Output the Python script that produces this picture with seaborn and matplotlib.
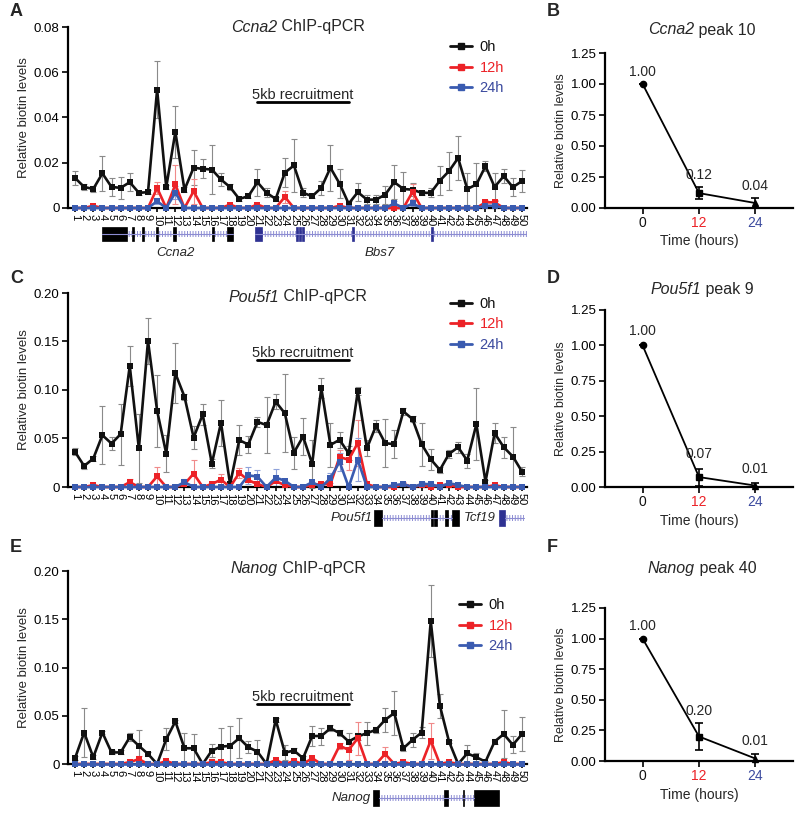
import numpy as np
import seaborn as sns
import matplotlib.pyplot as plt
from matplotlib.patches import Rectangle
from matplotlib.lines import Line2D
from matplotlib.transforms import ScaledTranslation

sns.set_theme(style="ticks")
plt.rcParams['font.family'] = ['Liberation Sans', 'DejaVu Sans']
plt.rcParams['hatch.linewidth'] = 0.7

# ---------------- data ----------------
probes = np.arange(1, 51)
time_labels = ['0h', '12h', '24h']
hours = [0, 12, 24]

# Ccna2 ChIP-qPCR
ccna2_0h = [0.0133, 0.0093, 0.0084, 0.0153, 0.0093, 0.0089, 0.0114, 0.0067, 0.0070, 0.0523,
            0.0092, 0.0336, 0.0081, 0.0178, 0.0173, 0.0170, 0.0126, 0.0092, 0.0040, 0.0052,
            0.0114, 0.0067, 0.0040, 0.0156, 0.0188, 0.0067, 0.0052, 0.0089, 0.0178, 0.0108,
            0.0019, 0.0070, 0.0037, 0.0037, 0.0059, 0.0114, 0.0084, 0.0081, 0.0067, 0.0067,
            0.0121, 0.0163, 0.0221, 0.0084, 0.0104, 0.0185, 0.0093, 0.0141, 0.0092, 0.0119]
ccna2_0h_err = [0.0030, 0.0015, 0.0015, 0.0077, 0.0040, 0.0050, 0.0040, 0.0010, 0.0010, 0.0127,
                0.0010, 0.0113, 0.0010, 0.0078, 0.0042, 0.0107, 0.0027, 0.0012, 0.0010, 0.0010,
                0.0059, 0.0020, 0.0010, 0.0064, 0.0116, 0.0020, 0.0010, 0.0030, 0.0102, 0.0065,
                0.0010, 0.0040, 0.0020, 0.0020, 0.0040, 0.0074, 0.0075, 0.0030, 0.0010, 0.0020,
                0.0064, 0.0084, 0.0098, 0.0072, 0.0093, 0.0022, 0.0063, 0.0032, 0.0041, 0.0048]
ccna2_12h = [0, 0, 0.0010, 0, 0, 0, 0, 0, 0, 0.0089,
             0, 0.0104, 0, 0.0074, 0, 0, 0, 0.0015, 0, 0,
             0.0015, 0, 0, 0.0049, 0, 0, 0, 0, 0, 0.0010,
             0, 0, 0, 0, 0, 0, 0, 0.0071, 0, 0,
             0, 0, 0, 0, 0, 0.0025, 0.0025, 0, 0, 0]
ccna2_12h_err = [0, 0, 0, 0, 0, 0, 0, 0, 0, 0.0025,
                 0, 0.0086, 0, 0.0056, 0, 0, 0, 0, 0, 0,
                 0, 0, 0, 0.0025, 0, 0, 0, 0, 0, 0,
                 0, 0, 0, 0, 0, 0, 0, 0.0033, 0, 0,
                 0, 0, 0, 0, 0, 0.0010, 0.0010, 0, 0, 0]
ccna2_24h = [0, 0, 0, 0, 0, 0, 0, 0, 0, 0.0030,
             0, 0.0068, 0, 0, 0, 0, 0, 0, 0, 0,
             0, 0, 0, 0, 0, 0, 0, 0, 0, 0,
             0, 0, 0, 0, 0, 0.0020, 0, 0.0020, 0, 0,
             0, 0, 0, 0, 0, 0.0010, 0.0010, 0, 0, 0]
ccna2_24h_err = [0, 0, 0, 0, 0, 0, 0, 0, 0, 0.0012,
                 0, 0.0030, 0, 0, 0, 0, 0, 0, 0, 0,
                 0, 0, 0, 0, 0, 0, 0, 0, 0, 0,
                 0, 0, 0, 0, 0, 0.0010, 0, 0.0010, 0, 0,
                 0, 0, 0, 0, 0, 0, 0, 0, 0, 0]

# Pou5f1 ChIP-qPCR
pou5f1_0h = [0.0362, 0.0217, 0.0293, 0.0534, 0.0448, 0.0545, 0.1248, 0.0397, 0.1507, 0.0786,
             0.0345, 0.1172, 0.0931, 0.0510, 0.0748, 0.0241, 0.0662, 0.0028, 0.0483, 0.0438,
             0.0672, 0.0638, 0.0879, 0.0760, 0.0355, 0.0520, 0.0238, 0.1020, 0.0434, 0.0486,
             0.0348, 0.0986, 0.0400, 0.0631, 0.0452, 0.0441, 0.0779, 0.0700, 0.0441, 0.0286,
             0.0176, 0.0341, 0.0410, 0.0272, 0.0648, 0.0055, 0.0555, 0.0410, 0.0314, 0.0159]
pou5f1_0h_err = [0.0035, 0.0030, 0.0030, 0.0296, 0.0070, 0.0315, 0.0210, 0.0360, 0.0240, 0.0370,
                 0.0190, 0.0310, 0.0031, 0.0120, 0.0110, 0.0050, 0.0235, 0.0020, 0.0157, 0.0090,
                 0.0050, 0.0290, 0.0076, 0.0400, 0.0165, 0.0190, 0.0250, 0.0100, 0.0226, 0.0084,
                 0.0070, 0.0040, 0.0080, 0.0060, 0.0250, 0.0145, 0.0035, 0.0034, 0.0220, 0.0110,
                 0.0030, 0.0045, 0.0056, 0.0073, 0.0370, 0.0020, 0.0100, 0.0107, 0.0300, 0.0050]
pou5f1_12h = [0, 0, 0.0020, 0, 0, 0, 0.0050, 0, 0, 0.0110,
              0, 0, 0.0030, 0.0138, 0, 0.0030, 0.0076, 0, 0.0145, 0.0070,
              0.0030, 0, 0.0060, 0.0020, 0, 0, 0.0020, 0.0030, 0.0030, 0.0310,
              0.0280, 0.0455, 0.0030, 0, 0, 0, 0.0030, 0, 0.0020, 0,
              0.0020, 0.0020, 0, 0, 0, 0, 0.0020, 0, 0, 0]
pou5f1_12h_err = [0, 0, 0, 0, 0, 0, 0.0030, 0, 0, 0.0100,
                  0, 0, 0, 0.0140, 0, 0, 0.0060, 0, 0.0050, 0,
                  0, 0, 0, 0, 0, 0, 0, 0, 0, 0.0070,
                  0.0100, 0.0235, 0, 0, 0, 0, 0.0020, 0, 0, 0,
                  0, 0, 0, 0, 0, 0, 0, 0, 0, 0]
pou5f1_24h = [0, 0, 0, 0, 0, 0, 0, 0, 0, 0,
              0, 0, 0.0050, 0, 0, 0, 0, 0, 0, 0.0120,
              0.0107, 0, 0.0097, 0.0065, 0, 0, 0.0050, 0, 0.0090, 0.0260,
              0, 0.0280, 0, 0, 0, 0.0020, 0.0030, 0, 0.0030, 0.0030,
              0, 0.0040, 0.0020, 0, 0, 0, 0, 0, 0, 0]
pou5f1_24h_err = [0, 0, 0, 0, 0, 0, 0, 0, 0, 0,
                  0, 0, 0.0030, 0, 0, 0, 0, 0, 0, 0.0090,
                  0.0070, 0, 0.0090, 0, 0, 0, 0, 0, 0.0050, 0.0090,
                  0, 0.0220, 0, 0, 0, 0, 0, 0, 0.0020, 0,
                  0, 0.0020, 0, 0, 0, 0, 0, 0, 0, 0]

# Nanog ChIP-qPCR
nanog_0h = [0.0060, 0.0326, 0.0070, 0.0326, 0.0120, 0.0120, 0.0278, 0.0188, 0.0104, 0.0,
            0.0257, 0.0441, 0.0163, 0.0163, 0.0, 0.0139, 0.0180, 0.0188, 0.0267, 0.0174,
            0.0128, 0.0, 0.0458, 0.0118, 0.0139, 0.0060, 0.0290, 0.0290, 0.0370, 0.0320,
            0.0233, 0.0285, 0.0320, 0.0354, 0.0458, 0.0528, 0.0163, 0.0250, 0.0326, 0.1480,
            0.0604, 0.0233, 0.0, 0.0110, 0.0070, 0.0024, 0.0233, 0.0310, 0.0198, 0.0310]
nanog_0h_err = [0.0020, 0.0254, 0.0020, 0.0020, 0.0020, 0.0020, 0.0040, 0.0166, 0.0020, 0.0010,
                0.0113, 0.0020, 0.0157, 0.0147, 0.0010, 0.0070, 0.0190, 0.0202, 0.0210, 0.0060,
                0.0120, 0.0010, 0.0020, 0.0080, 0.0030, 0.0020, 0.0106, 0.0088, 0.0030, 0.0030,
                0.0087, 0.0040, 0.0120, 0.0030, 0.0122, 0.0232, 0.0030, 0.0076, 0.0060, 0.0370,
                0.0126, 0.0020, 0.0010, 0.0088, 0.0040, 0.0010, 0.0030, 0.0246, 0.0087, 0.0176]
nanog_12h = [0, 0, 0, 0, 0, 0, 0.0020, 0.0050, 0, 0,
             0.0030, 0, 0, 0, 0, 0.0020, 0.0020, 0, 0, 0,
             0, 0, 0.0040, 0, 0.0030, 0, 0.0060, 0, 0, 0.0190,
             0.0146, 0.0267, 0, 0, 0.0104, 0, 0.0020, 0, 0, 0.0243,
             0, 0.0020, 0, 0, 0, 0, 0, 0.0020, 0, 0]
nanog_12h_err = [0, 0, 0, 0, 0, 0, 0, 0.0030, 0, 0,
                 0, 0, 0, 0, 0, 0, 0, 0, 0, 0,
                 0, 0, 0, 0, 0, 0, 0, 0, 0, 0.0030,
                 0.0104, 0.0173, 0, 0, 0.0076, 0, 0, 0, 0, 0.0187,
                 0, 0, 0, 0, 0, 0, 0, 0, 0, 0]
nanog_24h = [0] * 50
nanog_24h_err = [0] * 50

# single-peak time courses
ccna2_peak = [1.00, 0.12, 0.04]
ccna2_peak_err = [0.0, 0.05, 0.04]
pou5f1_peak = [1.00, 0.07, 0.01]
pou5f1_peak_err = [0.0, 0.06, 0.02]
nanog_peak = [1.00, 0.20, 0.02]
nanog_peak_err = [0.0, 0.11, 0.04]
ccna2_peak_labels = ['1.00', '0.12', '0.04']
pou5f1_peak_labels = ['1.00', '0.07', '0.01']
nanog_peak_labels = ['1.00', '0.20', '0.01']

# gene models in probe units: (start, end) of exons, intron span
ccna2_exons = [(3.96, 6.7), (7.2, 7.45), (8.3, 8.55), (9.9, 10.15), (11.7, 12.1), (16.0, 16.25), (17.7, 18.3)]
ccna2_intron = (3.96, 18.3)
bbs7_exons = [(20.7, 21.5), (25.2, 25.4), (25.55, 25.75), (25.9, 26.1), (31.4, 31.6), (40.0, 40.2)]
bbs7_intron = (20.7, 50.6)
pou5f1_exons = [(33.8, 34.6), (40.0, 40.25), (40.4, 40.65), (41.6, 41.85), (42.3, 43.1)]
pou5f1_intron = (34.6, 42.3)
tcf19_exons = [(47.5, 48.1)]
tcf19_intron = (48.1, 50.2)
nanog_exons = [(33.7, 34.3), (41.4, 41.9), (43.5, 43.65), (44.7, 47.5)]
nanog_intron = (34.3, 44.7)

# ---------------- style ----------------
BLACK = '#111111'
RED = '#ec2227'
BLUE = '#3a5bb0'
NAVY = '#2e3192'
LAVENDER = '#8c8cd2'
LINE_COLORS = [BLACK, RED, BLUE]
ERR_COLORS = ['#8a8a8a', '#f08a8a', '#8fa2da']
TEXT_COLORS = [BLACK, RED, '#3b4a9e']

W, H = 800, 813
fig = plt.figure(figsize=(8, 8.13), dpi=100)
titles = []


def px_axes(left, top, right, bottom):
    return fig.add_axes([left / W, 1 - bottom / H, (right - left) / W, (bottom - top) / H])


def mixed_title(ax, italic, rest, cx, cy, size):
    # italic gene name followed by upright text, centred later on (cx, cy) in pixels
    t1 = ax.text(cx / W, 1 - cy / H, italic, style='italic', ha='left', va='center',
                 fontsize=size, transform=fig.transFigure, clip_on=False)
    t2 = ax.annotate(rest, xy=(1, 0), xycoords=t1, ha='left', va='bottom', fontsize=size,
                     annotation_clip=False)
    titles.append((t1, t2))


def style_spines(ax):
    sns.despine(ax=ax)
    for s in ['left', 'bottom']:
        ax.spines[s].set_linewidth(1.6)
        ax.spines[s].set_color('black')
    ax.tick_params(width=1.2, color='black', labelcolor='black')


def draw_profile(ax, series, ymax, step, bar_y, leg_anchor):
    for (vals, errs), ecol in zip(series, ERR_COLORS):
        v = np.array(vals, dtype=float)
        e = np.array(errs, dtype=float)
        m = e > 0
        ax.errorbar(probes[m], v[m], yerr=e[m], fmt='none', ecolor=ecol,
                    elinewidth=0.8, capsize=2, capthick=0.8, zorder=1, clip_on=False)
    for (vals, errs), col in zip(series, LINE_COLORS):
        sns.lineplot(x=probes, y=vals, color=col, marker='s', markersize=4.5,
                     markeredgewidth=0, linewidth=1.9, ax=ax, clip_on=False,
                     zorder=3, legend=False, errorbar=None)
    ax.set_xlim(0.23, 50.55)
    ax.set_ylim(0, ymax)
    ax.set_xticks(probes)
    ax.set_xticklabels([str(p) for p in probes], rotation=-90, fontsize=8)
    ticks = np.arange(0, ymax + 1e-9, step)
    ax.set_yticks(ticks)
    ax.set_yticklabels(['0' if t == 0 else f'{t:.2f}' for t in ticks], fontsize=9.5)
    ax.tick_params(axis='x', length=3, pad=1)
    ax.tick_params(axis='y', length=4, pad=2)
    ax.set_xlabel('')
    ax.set_ylabel('Relative biotin levels', fontsize=9.5, labelpad=3)
    style_spines(ax)
    # 5kb recruitment scale bar
    ax.plot([21, 31], [bar_y, bar_y], color='black', lw=2, clip_on=False)
    ax.text(26, bar_y, '5kb recruitment', ha='center', va='bottom', fontsize=10.5)
    handles = [Line2D([], [], color=c, marker='s', markersize=5, lw=2) for c in LINE_COLORS]
    ax.legend(handles, time_labels, loc='upper left', bbox_to_anchor=leg_anchor, frameon=False,
              fontsize=10.5, handlelength=1.5, handletextpad=0.5, labelspacing=0.45,
              borderaxespad=0, labelcolor=TEXT_COLORS)


def draw_gene(ax, exons, intron, color):
    ax.add_patch(Rectangle((intron[0], -0.22), intron[1] - intron[0], 0.44, facecolor='none',
                           edgecolor=LAVENDER, hatch='||||||', lw=0))
    ax.plot(intron, [0, 0], color=LAVENDER, lw=0.8)
    for s, e in exons:
        ax.add_patch(Rectangle((s, -0.62), e - s, 1.24, facecolor=color, edgecolor=color, lw=0.5))


def gene_axes(top, bottom):
    g = px_axes(68, top, 527, bottom)
    g.set_xlim(0.23, 50.55)
    g.set_ylim(-1, 1)
    g.axis('off')
    return g


def draw_time(ax, vals, errs, labels):
    sns.lineplot(x=hours, y=vals, color='black', linewidth=1.3, ax=ax, legend=False, errorbar=None)
    ax.errorbar(hours, vals, yerr=errs, fmt='none', ecolor='black', elinewidth=1.2,
                capsize=3, capthick=1.2)
    for h, v, mk in zip(hours, vals, ['o', 's', '^']):
        ax.plot(h, v, marker=mk, color='black', markersize=4.5, clip_on=False)
    for h, v, e, lab in zip(hours, vals, errs, labels):
        ax.text(h, v + e + 0.1, lab, ha='center', va='center', fontsize=10)
    ax.set_xlim(-8, 32)
    ax.set_ylim(0, 1.25)
    ax.set_xticks(hours)
    ax.set_xticklabels([str(h) for h in hours], fontsize=10)
    ax.set_yticks(np.arange(0, 1.26, 0.25))
    ax.set_yticklabels([f'{t:.2f}' for t in np.arange(0, 1.26, 0.25)], fontsize=9.5)
    style_spines(ax)
    for tl, c in zip(ax.get_xticklabels(), TEXT_COLORS):
        tl.set_color(c)
    ax.tick_params(length=4, pad=2)
    ax.set_xlabel('Time (hours)', fontsize=10, labelpad=3)
    ax.set_ylabel('Relative biotin levels', fontsize=9, labelpad=3)


# ---------------- panels ----------------
axA = px_axes(68, 27, 527, 208)
draw_profile(axA, [(ccna2_0h, ccna2_0h_err), (ccna2_12h, ccna2_12h_err), (ccna2_24h, ccna2_24h_err)],
             0.08, 0.02, 0.0468, (0.82, 0.96))
gA = gene_axes(222, 246)
draw_gene(gA, ccna2_exons, ccna2_intron, 'black')
draw_gene(gA, bbs7_exons, bbs7_intron, NAVY)
gA.text(12.0, -1.05, 'Ccna2', style='italic', ha='center', va='top', fontsize=9.5)
gA.text(34.4, -1.05, 'Bbs7', style='italic', ha='center', va='top', fontsize=9.5)

axC = px_axes(68, 293, 527, 487)
draw_profile(axC, [(pou5f1_0h, pou5f1_0h_err), (pou5f1_12h, pou5f1_12h_err), (pou5f1_24h, pou5f1_24h_err)],
             0.20, 0.05, 0.131, (0.82, 1.01))
gC = gene_axes(505, 531)
draw_gene(gC, pou5f1_exons, pou5f1_intron, 'black')
draw_gene(gC, tcf19_exons, tcf19_intron, NAVY)
gC.text(31.3, 0, 'Pou5f1', style='italic', ha='center', va='center', fontsize=9.5)
gC.text(45.4, 0, 'Tcf19', style='italic', ha='center', va='center', fontsize=9.5)

axE = px_axes(68, 571, 527, 764)
draw_profile(axE, [(nanog_0h, nanog_0h_err), (nanog_12h, nanog_12h_err), (nanog_24h, nanog_24h_err)],
             0.20, 0.05, 0.062, (0.84, 0.89))
gE = gene_axes(785, 811)
draw_gene(gE, nanog_exons, nanog_intron, 'black')
gE.text(31.3, 0, 'Nanog', style='italic', ha='center', va='center', fontsize=9.5)

axB = px_axes(605, 53, 793, 208)
draw_time(axB, ccna2_peak, ccna2_peak_err, ccna2_peak_labels)
axD = px_axes(605, 310, 793, 487)
draw_time(axD, pou5f1_peak, pou5f1_peak_err, pou5f1_peak_labels)
axF = px_axes(605, 608, 793, 761)
draw_time(axF, nanog_peak, nanog_peak_err, nanog_peak_labels)

mixed_title(axA, 'Ccna2', ' ChIP-qPCR', 298, 27, 11.5)
mixed_title(axC, 'Pou5f1', ' ChIP-qPCR', 298, 297, 11.5)
mixed_title(axE, 'Nanog', ' ChIP-qPCR', 298, 568, 11.5)
mixed_title(axB, 'Ccna2', ' peak 10', 702, 30, 11.5)
mixed_title(axD, 'Pou5f1', ' peak 9', 702, 289, 11.5)
mixed_title(axF, 'Nanog', ' peak 40', 702, 568, 11.5)

for letter, (x, y) in zip('ABCDEF', [(10, 12), (547, 12), (10, 278), (547, 278), (10, 547), (547, 547)]):
    fig.text(x / W, 1 - y / H, letter, fontsize=13, fontweight='bold', ha='left', va='center')

# centre each two-part title on its anchor
renderer = fig.canvas.get_renderer()
for t1, t2 in titles:
    w = t1.get_window_extent(renderer).width + t2.get_window_extent(renderer).width
    t1.set_transform(fig.transFigure + ScaledTranslation(-w / 2 / fig.dpi, 0, fig.dpi_scale_trans))

fig.savefig('out.png', dpi=100, facecolor='white')
